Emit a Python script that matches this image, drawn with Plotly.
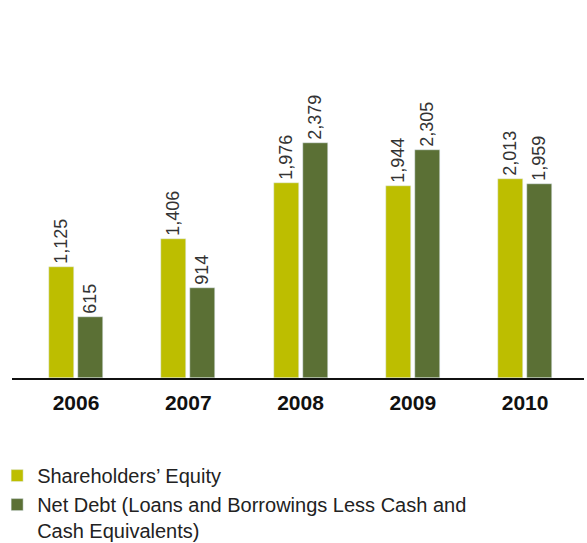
import plotly.graph_objects as go

years = ["2006", "2007", "2008", "2009", "2010"]
equity = [1125, 1406, 1976, 1944, 2013]
net_debt = [615, 914, 2379, 2305, 1959]
labels = ["Shareholders’ Equity", "Net Debt (Loans and Borrowings Less Cash and<br>Cash Equivalents)"]

xpos = list(range(len(years)))
font_family = "Liberation Sans, Arial, sans-serif"

fig = go.Figure()
fig.add_trace(go.Bar(
    x=xpos, y=equity, name=labels[0], marker_color="#BDBE00",
    width=0.223, offset=-0.24,
    text=[f"{v:,}\u00a0\u00a0" for v in equity], textposition="outside", textangle=-90,
    constraintext="none",
    textfont=dict(size=18, color="#333333", family=font_family), cliponaxis=False,
))
fig.add_trace(go.Bar(
    x=xpos, y=net_debt, name=labels[1], marker_color="#5B7035",
    width=0.223, offset=0.018,
    text=[f"{v:,}\u00a0\u00a0" for v in net_debt], textposition="outside", textangle=-90,
    constraintext="none",
    textfont=dict(size=18, color="#333333", family=font_family), cliponaxis=False,
))

fig.update_layout(
    width=587, height=543,
    margin=dict(l=12, r=3, t=40, b=165, autoexpand=False),
    paper_bgcolor="white", plot_bgcolor="white",
    font=dict(family=font_family, color="#222222"),
    bargap=0,
    xaxis=dict(
        range=[-0.57, 4.525], tickmode="array", tickvals=xpos, ticktext=years,
        tickangle=0,
        tickfont=dict(size=21, color="#111111", family=font_family, weight="bold"),
        showline=True, linecolor="#111111", linewidth=2, showgrid=False, zeroline=False,
        ticks="outside", ticklen=5, tickcolor="rgba(0,0,0,0)",
    ),
    yaxis=dict(range=[0, 3421], visible=False, showgrid=False, zeroline=False),
    showlegend=True,
    legend=dict(
        orientation="v",
        xref="paper", yref="container", x=-0.026, y=0.16, xanchor="left", yanchor="top",
        font=dict(size=20, color="#222222", family=font_family),
        itemwidth=30, tracegroupgap=0, bgcolor="rgba(0,0,0,0)", valign="top",
    ),
)

fig.write_html("out.html")
